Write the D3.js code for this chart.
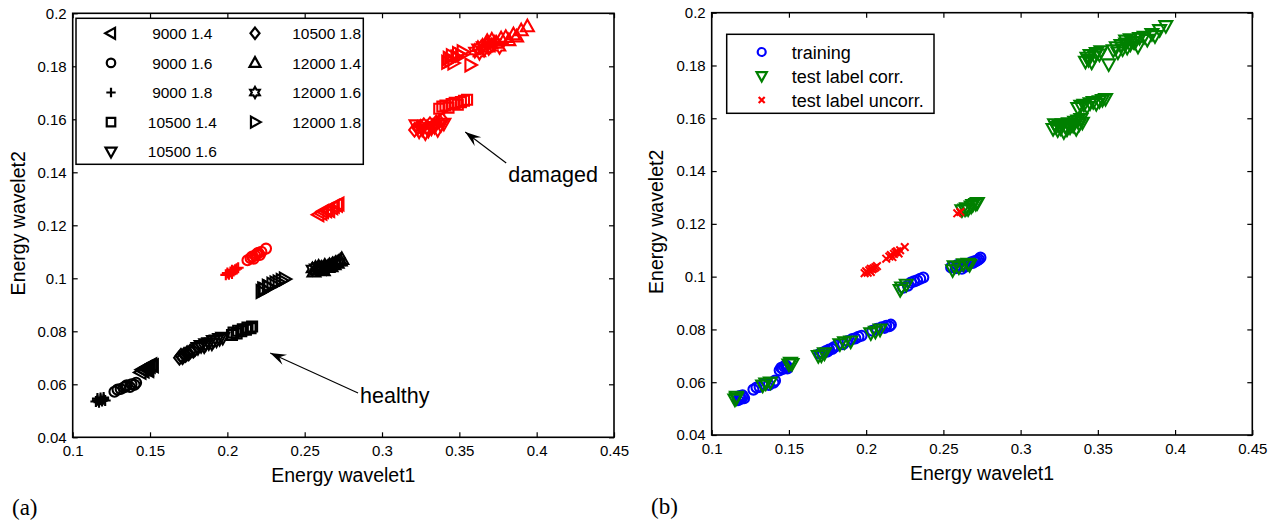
<!DOCTYPE html>
<html><head><meta charset="utf-8">
<script src="https://cdn.jsdelivr.net/npm/d3@7"></script>
<style>
html,body{margin:0;padding:0;background:#fff;}
svg{display:block;font-family:"Liberation Sans",Arial,sans-serif;}
</style></head>
<body><svg id="c" width="1280" height="524"></svg>
<script>
// ---------------- data ----------------
const xTicks = [0.1, 0.15, 0.2, 0.25, 0.3, 0.35, 0.4, 0.45];
const yTicks = [0.04, 0.06, 0.08, 0.1, 0.12, 0.14, 0.16, 0.18, 0.2];
const conditions = ["9000 1.4", "9000 1.6", "9000 1.8", "10500 1.4", "10500 1.6",
                    "10500 1.8", "12000 1.4", "12000 1.6", "12000 1.8"];
const xLabel = "Energy wavelet1";
const yLabel = "Energy wavelet2";
const rightLegendLabels = ["training", "test label corr.", "test label uncorr."];
const panelLabels = ["(a)", "(b)"];
const annotationLabels = ["damaged", "healthy"];

// healthy (black) points per condition [x, y]
const healthy_9000_14 = [[0.144,0.0645],[0.145,0.0655],[0.146,0.0650],[0.147,0.0660],[0.148,0.0664],[0.149,0.0658],[0.150,0.0668],[0.151,0.0674],[0.152,0.0670],[0.149,0.0652]];
const healthy_9000_16 = [[0.127,0.0572],[0.129,0.0580],[0.131,0.0582],[0.133,0.0588],[0.134,0.0592],[0.135,0.0596],[0.137,0.0590],[0.138,0.0600],[0.140,0.0598],[0.141,0.0606]];
const healthy_9000_18 = [[0.115,0.0535],[0.116,0.0540],[0.117,0.0532],[0.118,0.0542],[0.119,0.0537],[0.120,0.0544],[0.121,0.0539],[0.116,0.0546],[0.118,0.0548],[0.120,0.0550]];
const healthy_10500_14 = [[0.203,0.0786],[0.204,0.0795],[0.206,0.0792],[0.207,0.0802],[0.209,0.0800],[0.210,0.0808],[0.212,0.0806],[0.213,0.0814],[0.215,0.0812],[0.216,0.0818]];
const healthy_10500_16 = [[0.181,0.0738],[0.183,0.0745],[0.185,0.0744],[0.186,0.0752],[0.188,0.0756],[0.190,0.0755],[0.191,0.0764],[0.193,0.0766],[0.195,0.0772],[0.197,0.0776]];
const healthy_10500_18 = [[0.169,0.0700],[0.170,0.0708],[0.171,0.0702],[0.172,0.0712],[0.173,0.0710],[0.174,0.0718],[0.175,0.0716],[0.176,0.0724],[0.178,0.0726],[0.179,0.0732]];
const healthy_12000_14 = [[0.256,0.1025],[0.258,0.1032],[0.260,0.1036],[0.262,0.1030],[0.265,0.1042],[0.267,0.1045],[0.269,0.1052],[0.271,0.1058],[0.273,0.1066],[0.274,0.1072]];
const healthy_12000_16 = [[0.255,0.1035],[0.257,0.1040],[0.259,0.1044],[0.261,0.1040],[0.263,0.1048],[0.264,0.1038],[0.266,0.1050],[0.268,0.1054],[0.270,0.1058],[0.272,0.1062]];
const healthy_12000_18 = [[0.222,0.0950],[0.223,0.0960],[0.224,0.0958],[0.226,0.0970],[0.227,0.0966],[0.229,0.0978],[0.231,0.0982],[0.233,0.0986],[0.235,0.0992],[0.237,0.0997]];

// damaged (red) points per condition [x, y]
const damaged_9000_14 = [[0.259,0.1240],[0.261,0.1245],[0.262,0.1252],[0.264,0.1255],[0.265,0.1260],[0.266,0.1256],[0.268,0.1266],[0.269,0.1272],[0.271,0.1276],[0.272,0.1280]];
const damaged_9000_16 = [[0.213,0.1068],[0.215,0.1076],[0.216,0.1082],[0.217,0.1074],[0.218,0.1086],[0.219,0.1092],[0.220,0.1096],[0.221,0.1088],[0.222,0.1100],[0.225,0.1112]];
const damaged_9000_18 = [[0.199,0.1013],[0.200,0.1020],[0.201,0.1015],[0.202,0.1024],[0.203,0.1018],[0.204,0.1028],[0.205,0.1032],[0.206,0.1036],[0.207,0.1040],[0.203,0.1030]];
const damaged_10500_14 = [[0.337,0.1640],[0.339,0.1648],[0.341,0.1652],[0.343,0.1644],[0.345,0.1658],[0.347,0.1662],[0.349,0.1655],[0.351,0.1665],[0.353,0.1670],[0.355,0.1674]];
const damaged_10500_16 = [[0.322,0.1578],[0.324,0.1555],[0.326,0.1562],[0.328,0.1548],[0.330,0.1558],[0.332,0.1566],[0.334,0.1572],[0.336,0.1560],[0.338,0.1578],[0.340,0.1584]];
const damaged_10500_18 = [[0.321,0.1560],[0.323,0.1568],[0.325,0.1572],[0.327,0.1578],[0.329,0.1570],[0.331,0.1582],[0.333,0.1576],[0.335,0.1588],[0.337,0.1592],[0.339,0.1598]];
const damaged_12000_14 = [[0.368,0.1895],[0.371,0.1900],[0.374,0.1888],[0.377,0.1905],[0.380,0.1910],[0.382,0.1898],[0.385,0.1920],[0.387,0.1912],[0.390,0.1935],[0.394,0.1950]];
const damaged_12000_16 = [[0.360,0.1858],[0.362,0.1870],[0.363,0.1850],[0.365,0.1878],[0.366,0.1862],[0.368,0.1884],[0.369,0.1868],[0.371,0.1880],[0.373,0.1890],[0.376,0.1872]];
const damaged_12000_18 = [[0.342,0.1815],[0.343,0.1830],[0.344,0.1822],[0.345,0.1840],[0.346,0.1812],[0.348,0.1835],[0.349,0.1848],[0.351,0.1842],[0.352,0.1855],[0.357,0.1805]];

// panel (b): indices of the healthy points per condition that are test points (others: training)
const testIndices = [[6, 7, 8], [3, 5, 7], [0, 1, 7], [0, 2, 4], [1, 3, 5], [0, 2, 4], [0, 2, 5], [1, 4, 6], [0, 1, 3]];
// panel (b): number of damaged points per condition whose label was not corrected
const uncorrectedCounts = [2, 10, 10, 0, 0, 0, 0, 0, 0];

// annotation anchors in data units: [tipX, tipY, tailX, tailY, textX, textY]
const damagedArrow = [0.3538, 0.1552, 0.3803, 0.1435, 0.3816, 0.1362];
const healthyArrow = [0.2277, 0.0718, 0.2845, 0.0567, 0.2858, 0.0529];

const healthyPoints = [healthy_9000_14, healthy_9000_16, healthy_9000_18, healthy_10500_14,
  healthy_10500_16, healthy_10500_18, healthy_12000_14, healthy_12000_16, healthy_12000_18];
const damagedPoints = [damaged_9000_14, damaged_9000_16, damaged_9000_18, damaged_10500_14,
  damaged_10500_16, damaged_10500_18, damaged_12000_14, damaged_12000_16, damaged_12000_18];

// ---------------- styles ----------------
const markerTypes = ["tri-left", "circle", "plus", "square", "tri-down", "diamond", "tri-up", "hexagram", "tri-right"];
const FONT_TICK = 15, FONT_AXIS = 19.5;

function markerPath(type, s) {
  switch (type) {
    case "circle": return `M${-s},0A${s},${s} 0 1,0 ${s},0A${s},${s} 0 1,0 ${-s},0Z`;
    case "plus": return `M${-s},0H${s}M0,${-s}V${s}`;
    case "x": return `M${-s},${-s}L${s},${s}M${-s},${s}L${s},${-s}`;
    case "square": return `M${-s},${-s}H${s}V${s}H${-s}Z`;
    case "diamond": { const h = s * 1.2, w = s * 0.95; return `M0,${-h}L${w},0L0,${h}L${-w},0Z`; }
    case "tri-up": return `M0,${-s}L${s*0.95},${s*0.7}L${-s*0.95},${s*0.7}Z`;
    case "tri-down": return `M0,${s}L${s*0.95},${-s*0.7}L${-s*0.95},${-s*0.7}Z`;
    case "tri-left": return `M${-s},0L${s*0.7},${-s*0.95}L${s*0.7},${s*0.95}Z`;
    case "tri-right": return `M${s},0L${-s*0.7},${-s*0.95}L${-s*0.7},${s*0.95}Z`;
    case "hexagram": {
      let p = "";
      for (let i = 0; i < 12; i++) {
        const r = i % 2 === 0 ? s : s * 0.58;
        const a = -Math.PI / 2 + i * Math.PI / 6;
        p += (i === 0 ? "M" : "L") + (r * Math.cos(a)).toFixed(2) + "," + (r * Math.sin(a)).toFixed(2);
      }
      return p + "Z";
    }
  }
}
function markerSize(type) {
  return ({circle: 5, plus: 5.5, x: 3.8, square: 5, diamond: 5.6, "tri-up": 6.8, "tri-down": 6.8,
           "tri-left": 6.8, "tri-right": 6.8, hexagram: 6.5})[type];
}

const svg = d3.select("#c");
const fmt = d => String(+d.toFixed(2));

function makePanel(xr, yr) {
  const x = d3.scaleLinear().domain([0.1, 0.45]).range(xr);
  const y = d3.scaleLinear().domain([0.04, 0.2]).range(yr);
  const g = svg.append("g");
  const axes = [
    [d3.axisBottom(x).tickValues(xTicks).tickFormat(fmt), `translate(0,${yr[0]})`],
    [d3.axisTop(x).tickValues(xTicks).tickFormat(""), `translate(0,${yr[1]})`],
    [d3.axisLeft(y).tickValues(yTicks).tickFormat(fmt), `translate(${xr[0]},0)`],
    [d3.axisRight(y).tickValues(yTicks).tickFormat(""), `translate(${xr[1]},0)`]
  ];
  axes.forEach(([ax, tr], i) => {
    const a = g.append("g").attr("transform", tr)
      .call(ax.tickSizeInner(-5).tickSizeOuter(0).tickPadding(i === 0 ? 8 : 6));
    a.select(".domain").remove();
    a.selectAll("line").attr("stroke", "#000").attr("stroke-width", 1.2);
    a.selectAll("text").attr("font-size", FONT_TICK).attr("fill", "#000")
      .attr("font-family", '"Liberation Sans",Arial,sans-serif');
  });
  g.append("rect").attr("x", xr[0]).attr("y", yr[1]).attr("width", xr[1] - xr[0])
    .attr("height", yr[0] - yr[1]).attr("fill", "none").attr("stroke", "#000").attr("stroke-width", 1.6);
  return {x, y, g};
}

function drawPoints(p, pts, type, color, sw) {
  p.g.append("g").selectAll("path").data(pts).join("path")
    .attr("transform", d => `translate(${p.x(d[0])},${p.y(d[1])})`)
    .attr("d", markerPath(type, markerSize(type)))
    .attr("fill", "none").attr("stroke", color).attr("stroke-width", sw);
}

function arrow(p, spec) {
  const [tx, ty, sx, sy, lx, ly, label] = spec;
  const x1 = p.x(sx), y1 = p.y(sy), x2 = p.x(tx), y2 = p.y(ty);
  const ang = Math.atan2(y2 - y1, x2 - x1);
  p.g.append("line").attr("x1", x1).attr("y1", y1).attr("x2", x2).attr("y2", y2)
    .attr("stroke", "#000").attr("stroke-width", 1.1);
  const L = 16, W = 5.5, N = 10;
  const c = Math.cos(ang), s = Math.sin(ang);
  const pt = (a, b) => [x2 + a * c - b * s, y2 + a * s + b * c];
  const pts = [pt(0, 0), pt(-L, -W), pt(-N, 0), pt(-L, W)];
  p.g.append("path").attr("d", "M" + pts.map(q => q.join(",")).join("L") + "Z").attr("fill", "#000");
  p.g.append("text").attr("x", p.x(lx)).attr("y", p.y(ly)).attr("font-size", 21.5).text(label);
}

function axisLabels(p, xr, yr, xlY, ylX) {
  svg.append("text").attr("x", (xr[0] + xr[1]) / 2).attr("y", xlY).attr("text-anchor", "middle")
    .attr("font-size", FONT_AXIS).text(xLabel);
  svg.append("text").attr("transform", `translate(${ylX},${(yr[0] + yr[1]) / 2 - 2}) rotate(-90)`)
    .attr("text-anchor", "middle").attr("font-size", FONT_AXIS).text(yLabel);
}

// ---------------- panel (a) ----------------
const xrA = [72.7, 614], yrA = [437.3, 13.3];
const A = makePanel(xrA, yrA);
healthyPoints.forEach((pts, i) => drawPoints(A, pts, markerTypes[i], "#000", 2.1));
damagedPoints.forEach((pts, i) => drawPoints(A, pts, markerTypes[i], "#ff0000", 2.1));
arrow(A, [...damagedArrow, annotationLabels[0]]);
arrow(A, [...healthyArrow, annotationLabels[1]]);
axisLabels(A, xrA, yrA, 482, 25);

// legend (a)
{
  const lg = svg.append("g");
  lg.append("rect").attr("x", 76).attr("y", 18.3).attr("width", 287.3).attr("height", 146)
    .attr("fill", "#fff").attr("stroke", "#000").attr("stroke-width", 1.5);
  conditions.forEach((c, i) => {
    const col = i < 5 ? 0 : 1, row = i < 5 ? i : i - 5;
    const cy = 33.3 + row * 29.6;
    const mx = col === 0 ? 111 : 255, tx = col === 0 ? 182.3 : 326.7;
    lg.append("path").attr("transform", `translate(${mx},${cy})`)
      .attr("d", markerPath(markerTypes[i], markerSize(markerTypes[i]) * 0.85))
      .attr("fill", "none").attr("stroke", "#000").attr("stroke-width", 2.2);
    lg.append("text").attr("x", tx).attr("y", cy + 5.6).attr("text-anchor", "middle")
      .attr("font-size", 15.5).text(c);
  });
}

// ---------------- panel (b) ----------------
const xrB = [711.7, 1252.3], yrB = [435, 12.7];
const B = makePanel(xrB, yrB);
const training = [], testCorr = [], testUncorr = [];
healthyPoints.forEach((pts, i) => pts.forEach((d, j) => (testIndices[i].includes(j) ? testCorr : training).push(d)));
damagedPoints.forEach((pts, i) => pts.forEach((d, j) => (j < uncorrectedCounts[i] ? testUncorr : testCorr).push(d)));
drawPoints(B, training, "circle", "#0000ff", 2.1);
drawPoints(B, testCorr, "tri-down", "#008000", 2.1);
drawPoints(B, testUncorr, "x", "#ff0000", 2);
axisLabels(B, xrB, yrB, 480, 663);

// legend (b)
{
  const lg = svg.append("g");
  lg.append("rect").attr("x", 726.7).attr("y", 34.3).attr("width", 207.3).attr("height", 79)
    .attr("fill", "#fff").attr("stroke", "#000").attr("stroke-width", 1.5);
  const types = ["circle", "tri-down", "x"], cols = ["#0000ff", "#008000", "#ff0000"];
  const sizes = [4, 5.4, 3];
  rightLegendLabels.forEach((t, i) => {
    const cy = 52 + i * 24;
    lg.append("path").attr("transform", `translate(761.7,${cy})`).attr("d", markerPath(types[i], sizes[i]))
      .attr("fill", "none").attr("stroke", cols[i]).attr("stroke-width", 2.2);
    lg.append("text").attr("x", 791.7).attr("y", cy + 6.5).attr("font-size", 18).text(t);
  });
}

// panel labels
svg.append("text").attr("x", 12).attr("y", 515).attr("font-family", '"Liberation Serif","Times New Roman",serif')
  .attr("font-size", 23).text(panelLabels[0]);
svg.append("text").attr("x", 651).attr("y", 514).attr("font-family", '"Liberation Serif","Times New Roman",serif')
  .attr("font-size", 23).text(panelLabels[1]);
</script></body></html>
